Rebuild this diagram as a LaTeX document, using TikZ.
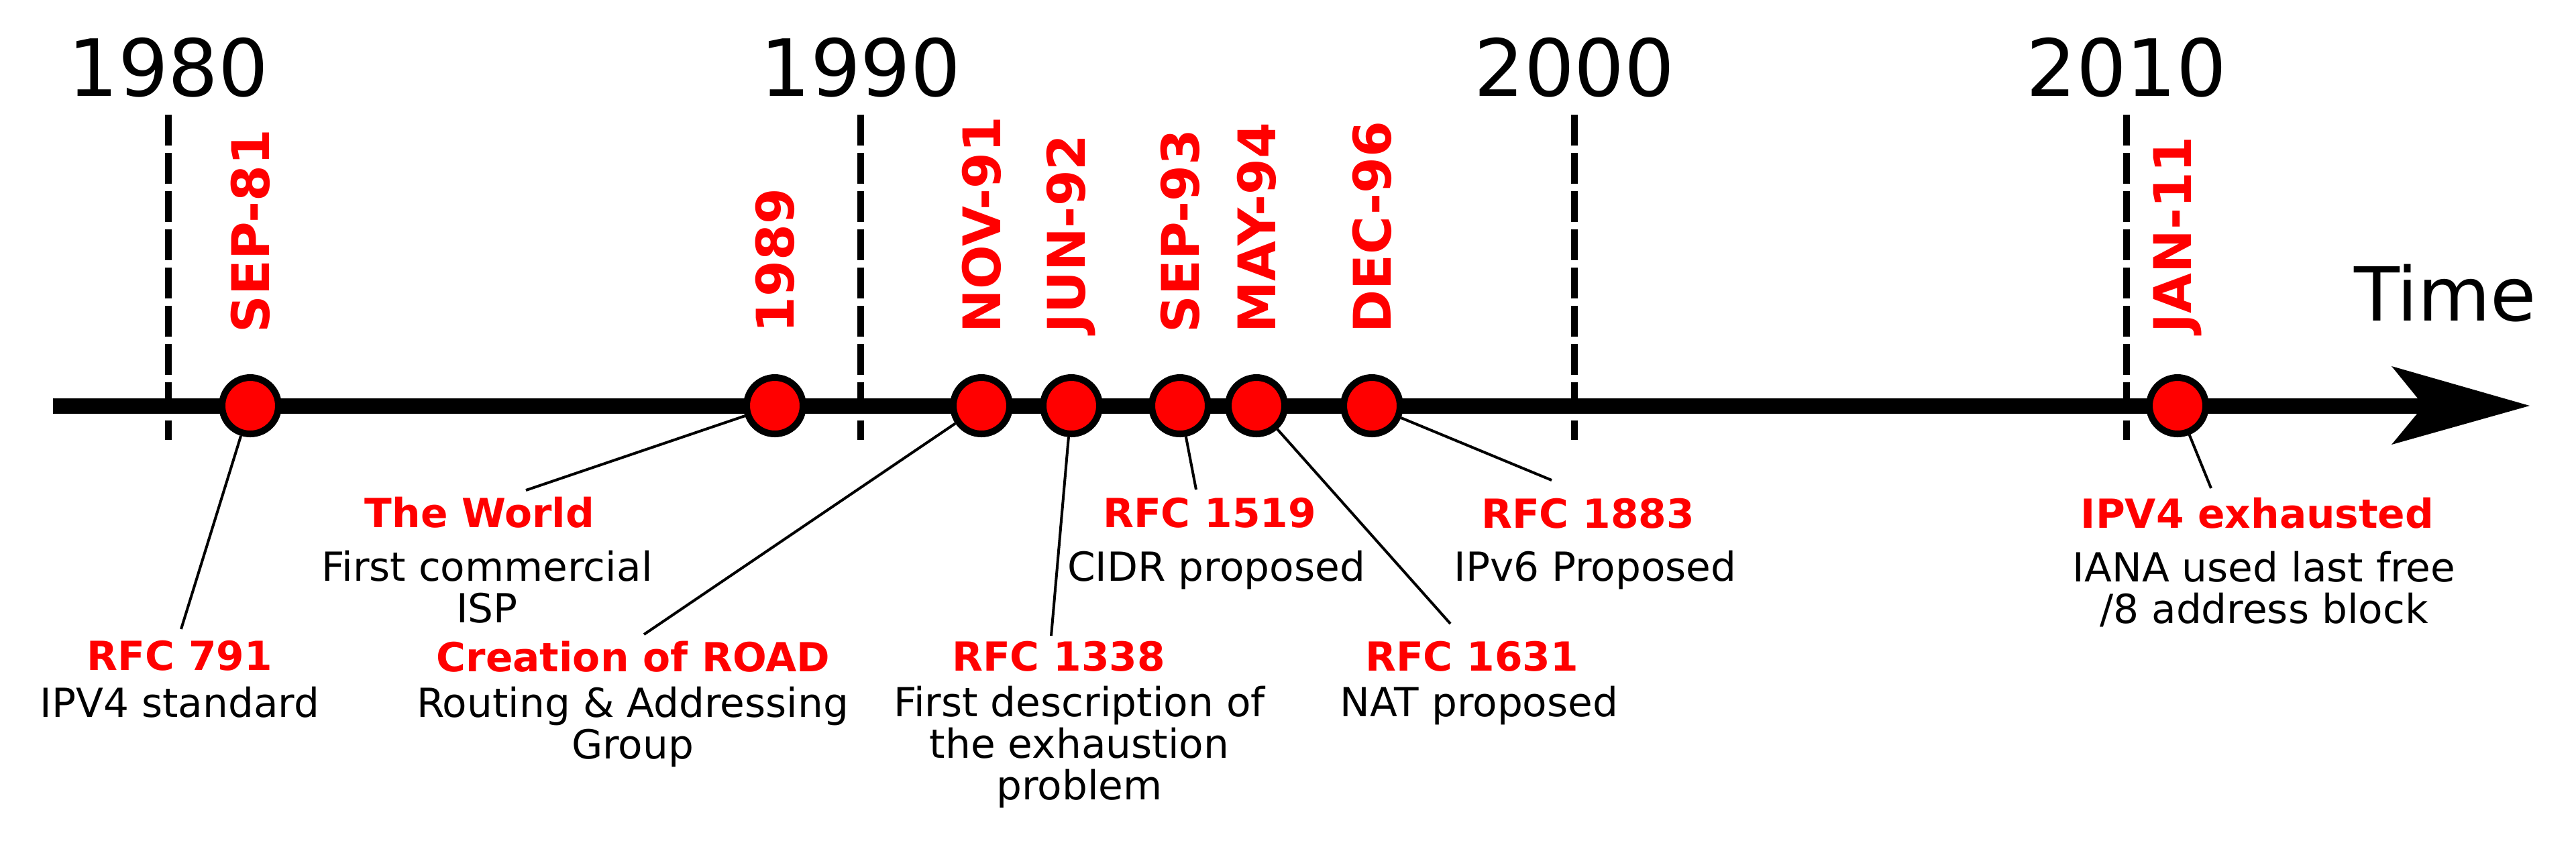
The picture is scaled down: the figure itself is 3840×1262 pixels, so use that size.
\documentclass[tikz,border=0pt]{standalone}
\usepackage{fontspec}
\setmainfont{DejaVu Sans}
\begin{document}
\begin{tikzpicture}[x=0.1mm,y=-0.1mm,
  year/.style={inner sep=0pt,anchor=base,font=\fontsize{33.5pt}{36pt}\selectfont},
  datelbl/.style={inner sep=0pt,anchor=west,rotate=90,text=red,font=\fontsize{22pt}{26pt}\selectfont\bfseries},
  title/.style={inner sep=0pt,anchor=base,text=red,font=\fontsize{17pt}{17.6pt}\selectfont\bfseries},
  desc/.style={inner sep=0pt,anchor=base,align=center,font=\fontsize{17pt}{17.6pt}\selectfont},
  event/.style={circle,draw=black,fill=red,line width=1mm,minimum size=8.4mm,inner sep=0pt},
  yearline/.style={line width=1mm,dash pattern=on 4.6mm off 1.1mm},
  link/.style={line width=0.4mm},
]
\useasboundingbox (0,0) rectangle (3840,1262);

% year markers
\foreach \n/\x in {1980/251,1990/1283,2000/2347,2010/3170}{
  \node[year] (y\n) at (\x,143) {\n};
  \coordinate (yt\n) at (\x,171);
  \coordinate (yb\n) at (\x,656);
  \draw[yearline] (yt\n) -- (yb\n);
}

% axis
\coordinate (axs) at (79,605);
\coordinate (axn) at (3613,605);
\draw[line width=2.3mm] (axs) -- (axn);
\fill (3565,546) -- (3771,605) -- (3565,663) -- (axn) -- cycle;
\node[inner sep=0pt,anchor=base,font=\fontsize{31.6pt}{34pt}\selectfont] (time) at (3645,478) {Time};

% connector ends
\coordinate (e791) at (270,938);
\coordinate (eworld) at (784,731);
\coordinate (eroad) at (960,946);
\coordinate (e1338) at (1567,948);
\coordinate (e1519) at (1783,730);
\coordinate (e1631) at (2162,930);
\coordinate (e1883) at (2313,716);
\coordinate (eiana) at (3296,728);

% events
\foreach \id/\x/\lbl in {c81/373/SEP-81,c89/1155/1989,c91/1463/NOV-91,c92/1597/JUN-92,c93/1759/SEP-93,c94/1873/MAY-94,c96/2045/DEC-96,c11/3246/JAN-11}{
  \node[datelbl] (l\id) at (\x,497) {\lbl};
  \node[event] (\id) at (\x,605) {};
}

\draw[link] (c81) -- (e791);
\draw[link] (c89) -- (eworld);
\draw[link] (c91) -- (eroad);
\draw[link] (c92) -- (e1338);
\draw[link] (c93) -- (e1519);
\draw[link] (c94) -- (e1631);
\draw[link] (c96) -- (e1883);
\draw[link] (c11) -- (eiana);

% titles
\node[title] (t791) at (268,999) {RFC 791};
\node[title] (tworld) at (715,786) {The World};
\node[title] (troad) at (944,1001) {Creation of ROAD};
\node[title] (t1338) at (1578,1000) {RFC 1338};
\node[title] (t1519) at (1803,786) {RFC 1519};
\node[title] (t1631) at (2194,1000) {RFC 1631};
\node[title] (t1883) at (2367,787) {RFC 1883};
\node[title] (tiana) at (3365,787) {IPV4 exhausted};

% descriptions (base anchor = baseline of the last line)
\node[desc] (d791) at (268,1069) {IPV4 standard};
\node[desc] (dworld) at (726,928) {First commercial\\ISP};
\node[desc] (droad) at (943,1131) {Routing \& Addressing\\Group};
\node[desc] (d1338) at (1609,1192) {First description of\\the exhaustion\\problem};
\node[desc] (d1519) at (1813,866) {CIDR proposed};
\node[desc] (d1631) at (2205,1068) {NAT proposed};
\node[desc] (d1883) at (2378,866) {IPv6 Proposed};
\node[desc] (diana) at (3375,929) {IANA used last free\\/8 address block};
\end{tikzpicture}
\end{document}
